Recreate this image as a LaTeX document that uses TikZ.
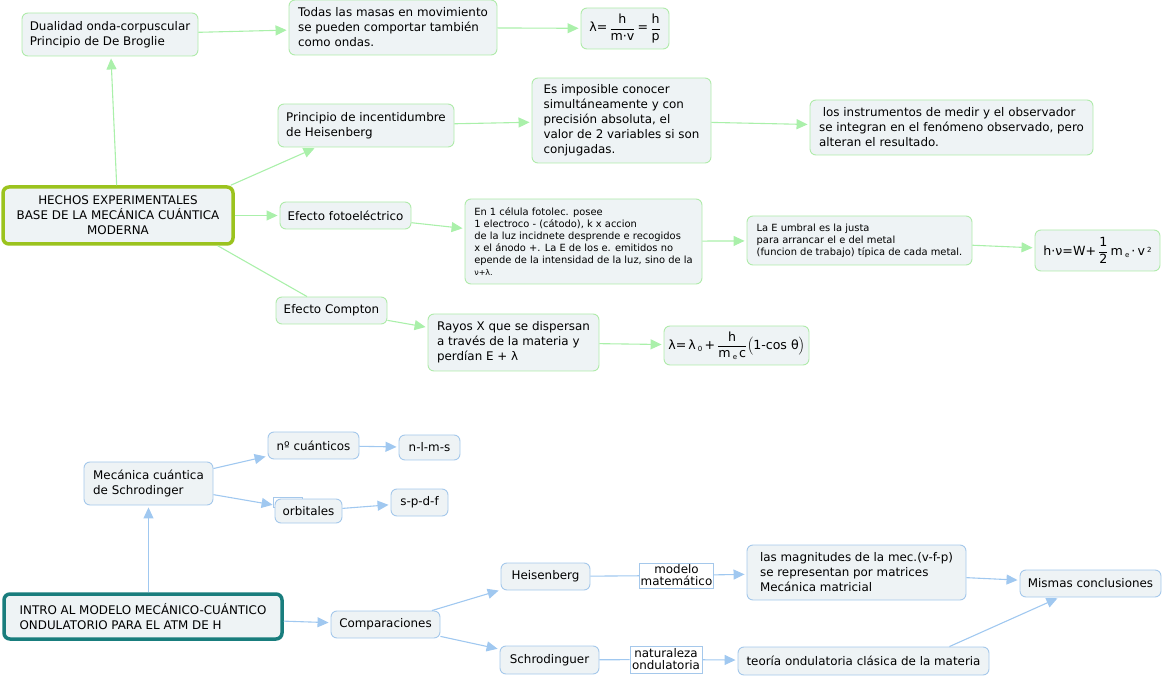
\documentclass[tikz,border=0pt]{standalone}
\usepackage{fontspec}
\setmainfont{DejaVu Sans}
\usetikzlibrary{arrows.meta}
\definecolor{nfill}{RGB}{238,243,245}
\definecolor{gbord}{RGB}{175,235,170}
\definecolor{glinec}{RGB}{170,240,170}
\definecolor{bbord}{RGB}{165,200,235}
\definecolor{blinec}{RGB}{160,200,240}
\definecolor{olivec}{RGB}{155,195,30}
\definecolor{tealc}{RGB}{25,125,125}
\newcommand\mainfs{\fontsize{11.9}{15}\selectfont}
\newcommand\smallfs{\fontsize{9.9}{12}\selectfont}
\newcommand\frmfs{\fontsize{12.6}{14}\selectfont}
\newcommand\myfrac[2]{$\displaystyle\frac{\mbox{#1}}{\mbox{#2}}$}
\newcommand\mysub[1]{\raisebox{-2pt}{\scriptsize #1}}
\begin{document}
\begin{tikzpicture}[x=1pt,y=-1pt,
  basebox/.style={rounded corners=6pt, fill=nfill, inner xsep=7pt, inner ysep=2pt, align=left, font=\mainfs, line width=0.9pt},
  gbox/.style={basebox, draw=gbord},
  bbox/.style={basebox, draw=bbord},
  sz/.style 2 args={minimum width=#1pt, minimum height=#2pt},
  garrow/.style={draw=glinec, line width=1.1pt, -{Triangle[length=11pt,width=10pt]}, shorten >=2pt},
  gline/.style={draw=glinec, line width=1.1pt},
  barrow/.style={draw=blinec, line width=1.1pt, -{Triangle[length=11pt,width=10pt]}, shorten >=2pt},
  bline/.style={draw=blinec, line width=1.1pt},
  lblbox/.style={draw=bbord, fill=white, line width=0.8pt, inner sep=1pt, align=center, font=\mainfs}
]
\useasboundingbox (0,0) rectangle (1163,676);

% ---------- top map ----------
\node[gbox, sz={176}{43}] (dual) at (110,34.5) {Dualidad onda-corpuscular\\Principio de De Broglie};
\node[gbox, sz={208}{55}] (todas) at (393,27.5) {Todas las masas en movimiento\\se pueden comportar también\\como ondas.};
\node[gbox, sz={88}{41}, align=center, font=\frmfs, inner xsep=4pt] (lamA) at (625,28.5) {λ=\,\myfrac{h}{m·v}\,=\,\myfrac{h}{p}};
\node[gbox, sz={176}{43}] (princ) at (366,125.5) {Principio de incentidumbre\\de Heisenberg};
\node[gbox, sz={179}{85}] (esimp) at (621.5,120.5) {Es imposible conocer\\simultáneamente y con\\precisión absoluta, el\\valor de 2 variables si son\\conjugadas.};
\node[gbox, sz={283}{55}] (instr) at (951.5,127.5) {\ los instrumentos de medir y el observador\\se integran en el fenómeno observado, pero\\alteran el resultado.};
\node[basebox, draw=olivec, line width=3.5pt, sz={230}{57}, align=center] (hechos) at (118,215.5) {HECHOS EXPERIMENTALES\\BASE DE LA MECÁNICA CUÁNTICA\\MODERNA};
\node[gbox, sz={131}{27}] (foto) at (345.5,215.5) {Efecto fotoeléctrico};
\node[gbox, sz={237}{85}, font=\smallfs] (celula) at (583.5,241.5) {En 1 célula fotolec. posee\\1 electroco - (cátodo), k x accion\\de la luz incidnete desprende e recogidos\\x el ánodo +. La E de los e. emitidos no\\epende de la intensidad de la luz, sino de la\\{\footnotesize ν+λ.}};
\node[gbox, sz={225}{49}, font=\smallfs] (umbral) at (859.5,240.5) {La E umbral es la justa\\para arrancar el e del metal\\(funcion de trabajo) típica de cada metal.};
\node[gbox, sz={125}{41}, align=center, font=\frmfs, inner xsep=4pt] (hv) at (1097.5,250.5) {h·ν=W+\,\myfrac{1}{2}\,m\,\mysub{e}\,·\,v\,\raisebox{3pt}{\scriptsize 2}};
\node[gbox, sz={111}{27}] (compton) at (331.5,310.5) {Efecto Compton};
\node[gbox, sz={171}{57}] (rayos) at (513.5,342.5) {Rayos X que se dispersan\\a través de la materia y\\perdían E + λ};
\node[gbox, sz={145}{39}, align=center, font=\frmfs, inner xsep=4pt] (lamB) at (736.5,345.5) {λ=\,λ\,\mysub{0}\,+\,\myfrac{h}{m\,\mysub{e}\,c}$\Bigl($1-cos θ$\Bigr)$};

\draw[garrow] (hechos) -- (dual);
\draw[garrow] (dual) -- (todas);
\draw[garrow] (todas) -- (lamA);
\draw[garrow] ([xshift=-4pt]hechos.north east) -- (princ);
\draw[garrow] (princ) -- (esimp);
\draw[garrow] (esimp) -- (instr);
\draw[garrow] (hechos) -- (foto);
\draw[garrow] (foto) -- (celula);
\draw[garrow] (celula) -- (umbral);
\draw[garrow] (umbral) -- (hv);
\draw[gline] ([xshift=-17pt]hechos.south east) -- (compton);
\draw[garrow] (compton) -- (rayos);
\draw[garrow] (rayos) -- (lamB);

% ---------- bottom map ----------
\node[bbox, sz={129}{43}] (mecan) at (148.5,483.5) {Mecánica cuántica\\de Schrodinger};
\node[bbox, sz={91}{27}] (ncuant) at (313.5,445.5) {nº cuánticos};
\node[bbox, sz={61}{25}] (nlms) at (429.5,447.5) {n-l-m-s};
\node[draw=bbord, fill=white, line width=0.8pt, inner sep=0pt, sz={29}{10}] (orbart) at (287.5,502) {};
\node[bbox, sz={67}{24}] (orbit) at (308.5,511) {orbitales};
\node[bbox, sz={57}{27}] (spdf) at (419.5,502.5) {s-p-d-f};
\node[basebox, draw=tealc, line width=3.5pt, sz={278}{45}] (intro) at (143,616.5) {INTRO AL MODELO MECÁNICO-CUÁNTICO\\ONDULATORIO PARA EL ATM DE H};
\node[bbox, sz={109}{27}] (compar) at (385.5,624.5) {Comparaciones};
\node[bbox, sz={89}{27}] (heis) at (545.5,576.5) {Heisenberg};
\node[lblbox, sz={73}{25}] (modelo) at (676.5,575.5) {modelo\\[-3pt]matemático};
\node[bbox, sz={219}{55}] (magn) at (856.5,572.5) {las magnitudes de la mec.(v-f-p)\\se representan por matrices\\Mecánica matricial};
\node[bbox, sz={141}{27}] (mismas) at (1090.5,583.5) {Mismas conclusiones};
\node[bbox, sz={99}{28}] (schro) at (549.5,660) {Schrodinguer};
\node[lblbox, sz={72}{27}] (natur) at (666,659.5) {naturaleza\\[-3pt]ondulatoria};
\node[bbox, sz={251}{28}] (teoria) at (863.5,661) {teoría ondulatoria clásica de la materia};

\draw[barrow] (mecan.south |- intro.north) -- (mecan.south);
\draw[barrow] (mecan) -- (ncuant);
\draw[barrow] (ncuant) -- (nlms);
\draw[barrow] (mecan) -- (orbit);
\draw[barrow] (orbit) -- (spdf);
\draw[barrow] (intro) -- (compar);
\draw[barrow] (compar) -- (heis);
\draw[barrow] (compar) -- (schro);
\draw[bline] (heis) -- (modelo);
\draw[barrow] (modelo) -- (magn);
\draw[barrow] (magn) -- (mismas);
\draw[bline] (schro) -- (natur);
\draw[barrow] (natur) -- (teoria);
\draw[barrow] ([xshift=-40pt]teoria.north east) -- (mismas);
\end{tikzpicture}
\end{document}
